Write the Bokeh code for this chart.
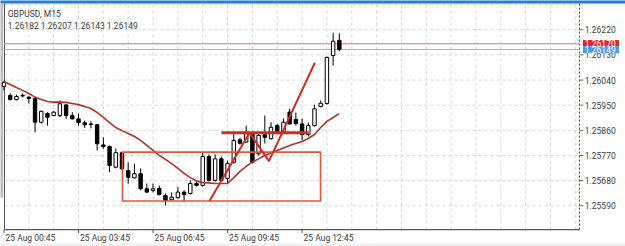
from bokeh.plotting import figure
from bokeh.models import ColumnDataSource, Range1d
from bokeh.core.properties import value
from bokeh.embed import file_html
from bokeh.resources import INLINE

symbol_title = "GBPUSD, M15"
ohlc_text = "1.26182 1.26207 1.26143 1.26149"

bar_index = list(range(55))
opens = [1.26017, 1.25985, 1.25970, 1.25983, 1.25979, 1.25974, 1.25889, 1.25920, 1.25913, 1.25913,
         1.25951, 1.25913, 1.25901, 1.25887, 1.25881, 1.25880, 1.25808, 1.25802, 1.25728, 1.25780,
         1.25716, 1.25690, 1.25705, 1.25651, 1.25645, 1.25652, 1.25627, 1.25612, 1.25619, 1.25639,
         1.25634, 1.25670, 1.25663, 1.25766, 1.25681, 1.25758, 1.25688, 1.25746, 1.25826, 1.25818,
         1.25848, 1.25776, 1.25844, 1.25830, 1.25877, 1.25853, 1.25925, 1.25899, 1.25883, 1.25845,
         1.25877, 1.25945, 1.25956, 1.26128, 1.26182]
highs = [1.26038, 1.25992, 1.25988, 1.25992, 1.25981, 1.25978, 1.25931, 1.25925, 1.25929, 1.25967,
         1.25954, 1.25925, 1.25920, 1.25895, 1.25892, 1.25883, 1.25835, 1.25806, 1.25795, 1.25784,
         1.25745, 1.25741, 1.25724, 1.25670, 1.25670, 1.25663, 1.25634, 1.25638, 1.25657, 1.25645,
         1.25681, 1.25675, 1.25782, 1.25774, 1.25774, 1.25766, 1.25752, 1.25853, 1.25834, 1.25877,
         1.25856, 1.25852, 1.25913, 1.25889, 1.25884, 1.25902, 1.25937, 1.25924, 1.25902, 1.25888,
         1.25952, 1.25967, 1.26124, 1.26209, 1.26207]
lows = [1.26003, 1.25967, 1.25967, 1.25978, 1.25956, 1.25853, 1.25884, 1.25877, 1.25910, 1.25907,
        1.25901, 1.25899, 1.25877, 1.25868, 1.25867, 1.25788, 1.25794, 1.25710, 1.25724, 1.25718,
        1.25669, 1.25688, 1.25645, 1.25636, 1.25638, 1.25627, 1.25591, 1.25609, 1.25616, 1.25603,
        1.25630, 1.25659, 1.25659, 1.25677, 1.25677, 1.25675, 1.25673, 1.25741, 1.25809, 1.25817,
        1.25741, 1.25770, 1.25813, 1.25827, 1.25849, 1.25849, 1.25881, 1.25877, 1.25824, 1.25838,
        1.25874, 1.25942, 1.25952, 1.26092, 1.26143]
closes = [1.26031, 1.25970, 1.25981, 1.25985, 1.25974, 1.25889, 1.25928, 1.25907, 1.25925, 1.25955,
          1.25913, 1.25901, 1.25888, 1.25880, 1.25883, 1.25812, 1.25802, 1.25734, 1.25780, 1.25722,
          1.25692, 1.25705, 1.25651, 1.25639, 1.25651, 1.25630, 1.25609, 1.25621, 1.25639, 1.25630,
          1.25670, 1.25663, 1.25766, 1.25681, 1.25758, 1.25681, 1.25741, 1.25824, 1.25814, 1.25848,
          1.25746, 1.25842, 1.25835, 1.25871, 1.25853, 1.25889, 1.25883, 1.25884, 1.25845, 1.25877,
          1.25937, 1.25957, 1.26121, 1.26179, 1.26149]
ma_values = [1.26035, 1.26024, 1.26013, 1.26003, 1.25992, 1.25979, 1.25970, 1.25963, 1.25961, 1.25961,
             1.25960, 1.25956, 1.25952, 1.25945, 1.25938, 1.25924, 1.25906, 1.25888, 1.25870, 1.25859,
             1.25849, 1.25838, 1.25824, 1.25806, 1.25788, 1.25770, 1.25756, 1.25741, 1.25724, 1.25706,
             1.25691, 1.25679, 1.25673, 1.25672, 1.25670, 1.25670, 1.25670, 1.25691, 1.25713, 1.25731,
             1.25747, 1.25758, 1.25770, 1.25779, 1.25788, 1.25797, 1.25806, 1.25813, 1.25820, 1.25831,
             1.25845, 1.25870, 1.25892, 1.25906, 1.25920]

price_ticks = [1.25590, 1.25680, 1.25770, 1.25860, 1.25950, 1.26040, 1.26130, 1.26220]
grid_prices = price_ticks + [1.26310]
time_tick_bars = [0, 12, 24, 36, 48]
time_tick_labels = ["25 Aug 00:45", "25 Aug 03:45", "25 Aug 06:45", "25 Aug 09:45", "25 Aug 12:45"]
hour_grid_bars = list(range(4, 93, 4))

ask_price = 1.26170
bid_price = 1.26149

# objects drawn on the chart by the user (bar position, price)
rect_bars = [19.08, 50.97]
rect_prices = [1.25607, 1.25782]
level_bars = [35.02, 49.08]
level_price = 1.25851
zigzag_bars = [33.09, 39.53, 42.67, 50.05]
zigzag_prices = [1.25607, 1.25851, 1.25750, 1.26102]

# ---- layout constants (scale: one bar = 6.21 px, one px = 0.00003578 in price) ----
PX_X = 1 / 6.21            # bars per pixel
PX_Y = 0.00003578          # price per pixel
X0, X1 = -0.5636, 100.08   # whole canvas in bar units
Y0, Y1 = 1.254444, 1.263246
CL, CR = 0.08, 92.67       # chart area, bars
CB, CT = 1.25505, 1.26314  # chart area, prices

FONT = value("Roboto")
TXT = "#3c3c3c"
FS = "8.5px"

p = figure(width=625, height=246, x_range=Range1d(X0, X1), y_range=Range1d(Y0, Y1),
           x_axis_location=None, y_axis_location=None, min_border=0,
           output_backend="svg", toolbar_location=None)
p.outline_line_color = None
p.grid.visible = False
p.background_fill_color = "white"

# light grey strips (top bar blue, left strip, bottom strip)
p.quad(left=[X0 - 1], right=[X1 + 1], bottom=[CT], top=[Y1 + 0.001], fill_color="#1f7fe0", line_color=None)
p.quad(left=[X0 - 1], right=[X0 + 2.7 * PX_X], bottom=[CT - 194 * PX_Y], top=[CT],
       fill_color="#bdbdbd", line_color=None)
p.quad(left=[X0 - 1], right=[X1 + 1], bottom=[Y0 - 0.001], top=[CB - 14 * PX_Y],
       fill_color="#f1f1f1", line_color=None)

# grid
p.segment(x0=hour_grid_bars, x1=hour_grid_bars, y0=[CB] * len(hour_grid_bars), y1=[CT] * len(hour_grid_bars),
          line_color="#d4d4d4", line_dash="3 3", line_width=1)
p.segment(x0=[CL] * len(grid_prices), x1=[CR] * len(grid_prices), y0=grid_prices, y1=grid_prices,
          line_color="#d4d4d4", line_dash="3 3", line_width=1)

# frame: left and bottom solid, right dashed
p.segment(x0=[CL], x1=[CL], y0=[CB], y1=[CT], line_color="#555555", line_width=1)
p.segment(x0=[CL], x1=[CR], y0=[CB], y1=[CB], line_color="#555555", line_width=1.2)
p.segment(x0=[CR], x1=[CR], y0=[CB], y1=[CT], line_color="#444444", line_width=1, line_dash="2 2")

# price axis ticks and labels
p.segment(x0=[CR] * len(price_ticks), x1=[CR + 4 * PX_X] * len(price_ticks), y0=price_ticks, y1=price_ticks,
          line_color="#666666", line_width=1)
p.text(x=[CR + 5.3 * PX_X] * len(price_ticks), y=price_ticks, text=[f"{v:.5f}" for v in price_ticks],
       text_font=FONT, text_font_size=FS, text_color=TXT, text_baseline="middle", text_align="left")

# time axis ticks and labels
p.segment(x0=time_tick_bars, x1=time_tick_bars, y0=[CB] * len(time_tick_bars),
          y1=[CB - 3.5 * PX_Y] * len(time_tick_bars), line_color="#555555", line_width=1)
p.text(x=[b + 1.5 * PX_X for b in time_tick_bars], y=[CB - 8.3 * PX_Y] * len(time_tick_bars),
       text=time_tick_labels, text_font=FONT, text_font_size=FS, text_color=TXT,
       text_baseline="middle", text_align="left")

# ask / bid lines
p.segment(x0=[CL], x1=[CR], y0=[ask_price], y1=[ask_price], line_color="#dba3a3", line_width=1.5)
p.segment(x0=[CL], x1=[CR], y0=[bid_price], y1=[bid_price], line_color="#86b9e6", line_width=1)

# candles
src = ColumnDataSource(dict(
    x=bar_index, o=opens, h=highs, l=lows, c=closes,
    top=[max(o, c) for o, c in zip(opens, closes)],
    bottom=[min(o, c) for o, c in zip(opens, closes)],
    fill=["white" if c >= o else "black" for o, c in zip(opens, closes)],
))
p.segment(x0="x", y0="l", x1="x", y1="h", source=src, line_color="black", line_width=1)
p.vbar(x="x", top="top", bottom="bottom", width=0.55, fill_color="fill",
       line_color="black", line_width=1, source=src)

# moving average
p.line(bar_index, ma_values, line_color="#b3322a", line_width=1.6)

# drawn objects
p.quad(left=[rect_bars[0]], right=[rect_bars[1]], bottom=[rect_prices[0]], top=[rect_prices[1]],
       fill_color=None, line_color="#e2553f", line_width=1.6)
p.line(level_bars, [level_price, level_price], line_color="#d42b20", line_width=3)
p.line(zigzag_bars, zigzag_prices, line_color="#d42b20", line_width=2)

# header texts
p.text(x=[CL + 3.3 * PX_X] * 2, y=[CT - 10.3 * PX_Y, CT - 22.7 * PX_Y], text=[symbol_title, ohlc_text],
       text_font=FONT, text_font_size=FS, text_color=TXT, text_baseline="middle", text_align="left")

# price tags on the axis
tag_prices = [ask_price, bid_price]
p.rect(x=[CR + 21.5 * PX_X] * 2, y=tag_prices, width=36, height=7.4, width_units="screen",
       height_units="screen", fill_color=["#e3262b", "#4d9be6"], line_color=None)
p.text(x=[CR + 5.3 * PX_X] * 2, y=tag_prices, text=[f"{v:.5f}" for v in tag_prices],
       text_font=FONT, text_font_size=FS, text_color="white", text_baseline="middle", text_align="left")

open("out.html", "w").write(file_html(p, INLINE))
